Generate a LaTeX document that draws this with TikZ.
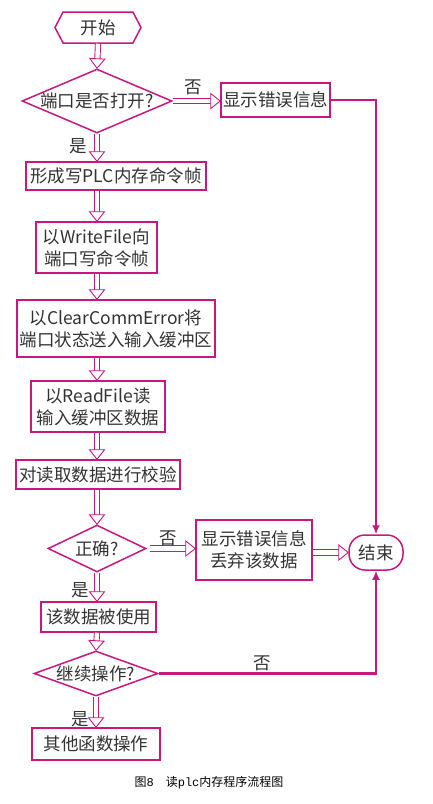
\documentclass[tikz,border=0pt]{standalone}
\usepackage{fontspec}
\setmainfont{Noto Sans CJK SC}
\setmonofont{Liberation Mono}
\usetikzlibrary{arrows.meta,positioning,shapes.geometric,shapes.symbols,decorations.markings}
\definecolor{flowpink}{HTML}{C8187E}
\definecolor{flowtext}{HTML}{333333}
\tikzset{
  proc/.style={rectangle,draw=flowpink,line width=1.5pt,inner sep=0pt,align=center,text=flowtext,font=\fontsize{17.5}{22}\selectfont},
  dec/.style={diamond,draw=flowpink,line width=1.5pt,inner sep=-2pt,text=flowtext,font=\fontsize{17.5}{22}\selectfont},
  term/.style={proc,rounded corners=16pt},
  begin/.style={proc,signal,signal to=east and west,signal pointer angle=125},
  harr/.style={draw=flowpink,double=white,double distance=4.4pt,line width=0.9pt,shorten >=8.5pt,
    postaction={decorate,decoration={markings,mark=at position 1 with
      {\draw[flowpink,line width=0.9pt,fill=white,line join=miter] (0pt,0pt) -- (-9.5pt,7.5pt) -- (-9.5pt,-7.5pt) -- cycle;}}}},
  parr/.style={draw=flowpink,line width=2.2pt,-{Latex[length=9pt,width=8pt]}},
  lab/.style={text=flowtext,font=\fontsize{17.5}{22}\selectfont},
}

\begin{document}
\begin{tikzpicture}[x=1pt,y=-1pt]
  \useasboundingbox[fill=white] (0,0) rectangle (432,804);
  % nodes
  \node[begin,minimum width=86pt,minimum height=31pt] (start) at (98,27.5) {开始};
  \node[dec,aspect=2.34,minimum width=150pt,minimum height=64pt] (q1) at (97,101) {端口是否打开?};
  \node[proc,minimum width=109pt,minimum height=34pt] (err1) at (275.5,100) {显示错误信息};
  \node[proc,minimum width=180pt,minimum height=28pt] (cmd) at (116,176) {形成写PLC内存命令帧};
  \node[proc,minimum width=121pt,minimum height=51pt] (write) at (96.5,247.5) {以WriteFile向\\端口写命令帧};
  \node[proc,minimum width=198pt,minimum height=57pt] (clear) at (116,328.5) {以ClearCommError将\\端口状态送入输入缓冲区};
  \node[proc,minimum width=134pt,minimum height=51pt] (read) at (98,406.5) {以ReadFile读\\输入缓冲区数据};
  \node[proc,minimum width=164pt,minimum height=29pt] (check) at (98,474.5) {对读取数据进行校验};
  \node[dec,aspect=2.09,minimum width=98pt,minimum height=47pt] (q2) at (97,548.5) {正确?};
  \node[proc,minimum width=116pt,minimum height=60pt] (err2) at (254,550) {显示错误信息\\丢弃该数据};
  \node[term,minimum width=54pt,minimum height=35pt] (stop) at (376,552.5) {结束};
  \node[proc,minimum width=115pt,minimum height=30pt] (use) at (98.5,617) {该数据被使用};
  \node[dec,aspect=2.75,minimum width=124pt,minimum height=45pt] (q3) at (96,673.5) {继续操作?};
  \node[proc,minimum width=128pt,minimum height=32pt] (other) at (96,744) {其他函数操作};
  % main flow
  \draw[harr] (start.south) -- (q1.north);
  \draw[harr] (q1.south) -- (q1.south |- cmd.north);
  \draw[harr] (q1.south |- cmd.south) -- (q1.south |- write.north);
  \draw[harr] (q1.south |- write.south) -- (q1.south |- clear.north);
  \draw[harr] (q1.south |- clear.south) -- (q1.south |- read.north);
  \draw[harr] (q1.south |- read.south) -- (q1.south |- check.north);
  \draw[harr] (q1.south |- check.south) -- (q2.north);
  \draw[harr] (q2.south) -- (q2.south |- use.north);
  \draw[harr] (q2.south |- use.south) -- (q3.north);
  \draw[harr] (q3.south) -- (q3.south |- other.north);
  % branches
  \draw[harr] (q1.east) -- (q1.east -| err1.west);
  \draw[parr] (err1.east) -| (stop.north);
  \draw[harr] ([xshift=3pt]q2.east) -- (q2.east -| err2.west);
  \draw[harr] (err2.east |- stop.west) -- (stop.west);
  \draw[parr] (q3.east) -| (stop.south);
  % labels
  \node[lab] (no1) at (193,87) {否};
  \node[lab] (yes1) at (78,146) {是};
  \node[lab] (no2) at (168,538) {否};
  \node[lab] (yes2) at (80,590) {是};
  \node[lab] (no3) at (262,663) {否};
  \node[lab] (yes3) at (80,719) {是};
  \node[text=black,font=\fontsize{12}{14}\selectfont] (cap) at (209,783) {图{\ttfamily 8}\quad 读{\ttfamily plc}内存程序流程图};
\end{tikzpicture}
\end{document}
